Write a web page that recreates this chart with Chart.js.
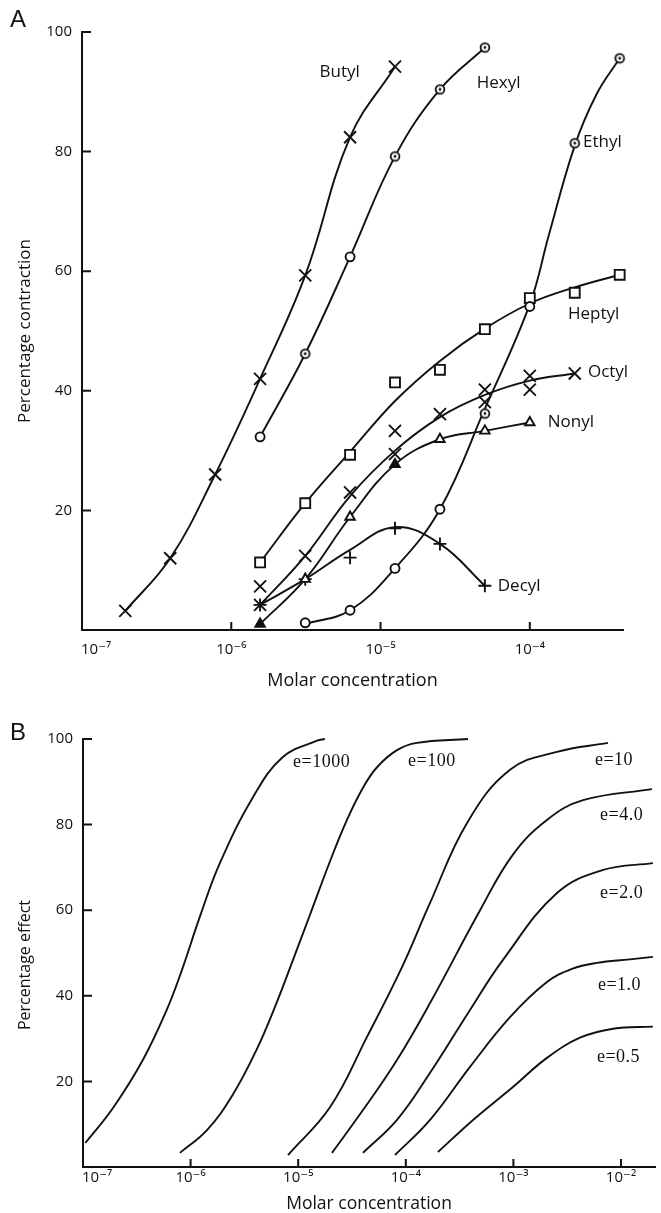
<!DOCTYPE html>
<html>
<head>
<meta charset="utf-8">
<title>Dose-response curves of alkyl compounds</title>
<script src="https://cdn.jsdelivr.net/npm/chart.js@4.4.1/dist/chart.umd.min.js"></script>
<style>
  html, body { margin: 0; padding: 0; background: #fff; overflow: hidden; }
  .panel { position: absolute; left: 0; width: 661px; }
  #panelA { top: 0; height: 700px; }
  #panelB { top: 690px; height: 530px; }
</style>
</head>
<body>
<div class="panel" id="panelA"><canvas id="chartA"></canvas></div>
<div class="panel" id="panelB"><canvas id="chartB"></canvas></div>
<script>
// ---------- Panel A: measured contractions ----------
const xTicksA = [1e-7, 1e-6, 1e-5, 1e-4];
const xTickLabelsA = ['10\u207B\u2077', '10\u207B\u2076', '10\u207B\u2075', '10\u207B\u2074'];
const yTicks = [0, 20, 40, 60, 80, 100];
const yTickLabels = ['', '20', '40', '60', '80', '100'];

const butylX = [1.95e-7, 3.9e-7, 7.8e-7, 1.56e-6, 3.13e-6, 6.25e-6, 1.25e-5];
const butylY = [3.2, 12.0, 26.0, 42.0, 59.3, 82.4, 94.2];

const hexylX = [1.56e-6, 3.13e-6, 6.25e-6, 1.25e-5, 2.5e-5, 5e-5];
const hexylY = [32.3, 46.2, 62.4, 79.2, 90.4, 97.4];

const ethylX = [3.13e-6, 6.25e-6, 1.25e-5, 2.5e-5, 5e-5, 1e-4, 2e-4, 4e-4];
const ethylY = [1.2, 3.3, 10.3, 20.2, 36.2, 54.1, 81.4, 95.6];
const ethylCurveX = [3.13e-6, 6.25e-6, 1.25e-5, 2.5e-5, 5e-5, 1e-4, 1.34e-4, 2e-4, 2.8e-4, 4e-4];
const ethylCurveY = [1.0, 3.3, 10.3, 20.2, 37.0, 54.5, 66.0, 81.0, 89.6, 95.6];

const heptylX = [1.56e-6, 3.13e-6, 6.25e-6, 1.25e-5, 2.5e-5, 5e-5, 1e-4, 2e-4, 4e-4];
const heptylY = [11.3, 21.2, 29.3, 41.4, 43.5, 50.3, 55.5, 56.4, 59.4];
const heptylCurveY = [11.3, 21.2, 29.8, 38.3, 45.0, 50.4, 54.6, 57.3, 59.4];

const octylX = [1.56e-6, 1.56e-6, 3.13e-6, 6.25e-6, 1.25e-5, 1.25e-5, 2.5e-5, 5e-5, 5e-5, 1e-4, 1e-4, 2e-4];
const octylY = [7.3, 4.2, 12.4, 23.0, 33.3, 29.4, 36.1, 40.2, 38.1, 42.5, 40.2, 42.9];
const octylCurveX = [1.56e-6, 3.13e-6, 6.25e-6, 1.25e-5, 2.5e-5, 5e-5, 1e-4, 2e-4];
const octylCurveY = [4.2, 12.4, 22.4, 30.0, 35.6, 39.3, 41.7, 42.9];

const nonylX = [1.56e-6, 3.13e-6, 6.25e-6, 1.25e-5, 2.5e-5, 5e-5, 1e-4];
const nonylY = [1.0, 8.5, 18.9, 27.7, 31.9, 33.3, 34.7];

const decylX = [1.56e-6, 3.13e-6, 6.25e-6, 1.25e-5, 2.5e-5, 5e-5];
const decylY = [4.2, 8.5, 12.1, 17.0, 14.4, 7.4];
const decylCurveY = [4.2, 8.5, 13.4, 17.2, 14.4, 7.4];

// ---------- Panel B: theoretical curves for several efficacies ----------
const xTicksB = [1e-7, 1e-6, 1e-5, 1e-4, 1e-3, 1e-2];
const xTickLabelsB = ['10\u207B\u2077', '10\u207B\u2076', '10\u207B\u2075', '10\u207B\u2074', '10\u207B\u00B3', '10\u207B\u00B2'];

const e1000X = [1.05e-7, 1.9e-7, 3.6e-7, 6.0e-7, 8.3e-7, 1.22e-6, 1.87e-6, 3.8e-6, 7.2e-6, 1.5e-5, 1.77e-5];
const e1000Y = [5.6, 13.8, 25.0, 36.7, 46.0, 58.5, 71.0, 86.4, 95.8, 99.6, 100];

const e100X = [7.96e-7, 1.42e-6, 2.48e-6, 4.14e-6, 6.35e-6, 8.95e-6, 1.29e-5, 1.98e-5, 2.84e-5, 4.0e-5, 5.4e-5, 8.28e-5, 1.27e-4, 3.79e-4];
const e100Y = [3.3, 8.6, 17.0, 27.6, 38.6, 48.4, 59.0, 71.5, 81.1, 88.6, 93.4, 97.4, 99.1, 100];

const e10X = [8.04e-6, 1.98e-5, 4.36e-5, 9.22e-5, 1.68e-4, 3.71e-4, 9.3e-4, 2.54e-3, 7.57e-3];
const e10Y = [2.8, 14.0, 30.4, 46.7, 61.7, 80.4, 92.8, 97.0, 99.1];

const e4X = [2.06e-5, 4.0e-5, 8.28e-5, 1.68e-4, 4.9e-4, 9.9e-4, 2.05e-3, 4.44e-3, 1.94e-2];
const e4Y = [3.3, 13.3, 25.0, 38.3, 60.0, 73.0, 81.1, 85.7, 88.3];

const e2X = [4.0e-5, 8.28e-5, 1.68e-4, 3.95e-4, 8.0e-4, 2.54e-3, 6.81e-3, 1.98e-2];
const e2Y = [3.3, 11.0, 22.0, 36.7, 48.4, 64.0, 69.4, 71.0];

const e1X = [7.94e-5, 1.68e-4, 3.95e-4, 9.3e-4, 2.05e-3, 3.5e-3, 5.98e-3, 1.21e-2, 1.98e-2];
const e1Y = [2.8, 11.0, 23.4, 35.0, 43.2, 46.3, 47.7, 48.5, 49.1];

const e05X = [1.99e-4, 4.22e-4, 9.9e-4, 2.05e-3, 4.16e-3, 8.43e-3, 1.98e-2];
const e05Y = [3.5, 11.0, 18.7, 25.5, 30.2, 32.3, 32.8];

// ---------- drawing ----------
const ink = '#111';
const sans = '"Open Sans", "DejaVu Sans", sans-serif';
const serif = '"Liberation Serif", "DejaVu Serif", serif';

const pts = (xs, ys) => xs.map((x, i) => ({ x, y: ys[i] }));

// open circle with a centre dot
function dottedRing() {
  const c = document.createElement('canvas');
  c.width = c.height = 14;
  const g = c.getContext('2d');
  g.lineWidth = 1.8;
  g.strokeStyle = ink;
  g.fillStyle = '#fff';
  g.beginPath(); g.arc(7, 7, 4.4, 0, Math.PI * 2); g.fill(); g.stroke();
  g.fillStyle = ink;
  g.beginPath(); g.arc(7, 7, 1.4, 0, Math.PI * 2); g.fill();
  return c;
}
const ringDot = dottedRing();

function curve(xs, ys) {
  return {
    data: pts(xs, ys), showLine: true, pointRadius: 0, borderColor: ink,
    borderWidth: 1.9, tension: 0.4, fill: false, clip: false, order: 2
  };
}
function marks(xs, ys, style, radius, extra) {
  return Object.assign({
    data: pts(xs, ys), showLine: false, pointStyle: style, pointRadius: radius,
    pointBorderWidth: 1.9, pointBorderColor: ink, pointBackgroundColor: '#fff',
    clip: false, order: 1
  }, extra || {});
}

// axis frame, inward tick marks, decade labels and text placed on the scales
function framePlugin(cfg) {
  return {
    id: 'frame' + cfg.letter,
    afterDraw(chart) {
      const { ctx, chartArea } = chart;
      const xs = chart.scales.x, ys = chart.scales.y;
      ctx.save();
      ctx.strokeStyle = ink;
      ctx.lineWidth = 2;
      ctx.beginPath();
      cfg.xMarks.forEach(v => {
        const px = xs.getPixelForValue(v);
        ctx.moveTo(px, chartArea.bottom); ctx.lineTo(px, chartArea.bottom - 8);
      });
      cfg.yMarks.forEach(v => {
        const py = ys.getPixelForValue(v);
        ctx.moveTo(chartArea.left, py); ctx.lineTo(chartArea.left + 9, py);
      });
      ctx.stroke();

      ctx.fillStyle = ink;
      // decade labels under the x axis; the first one starts at the axis corner
      ctx.font = '15px ' + sans;
      ctx.textBaseline = 'middle';
      cfg.xTicks.forEach((v, i) => {
        const px = xs.getPixelForValue(v);
        ctx.textAlign = i === 0 ? 'left' : 'center';
        ctx.fillText(cfg.xLabels[i], i === 0 ? px - 1 : px, chartArea.bottom + cfg.xLabelDrop);
      });

      ctx.textAlign = 'left';
      cfg.notes.forEach(n => {
        ctx.font = n.font;
        ctx.letterSpacing = n.spacing || '0px';
        ctx.fillText(n.text, xs.getPixelForValue(n.x), ys.getPixelForValue(n.y));
      });
      ctx.letterSpacing = '0px';

      ctx.font = '24px "Liberation Sans", Arial, sans-serif';
      ctx.textBaseline = 'alphabetic';
      ctx.fillText(cfg.letter, 10, cfg.letterBase);

      ctx.translate(cfg.yTitleX, cfg.yTitleY);
      ctx.rotate(-Math.PI / 2);
      ctx.textAlign = 'center';
      ctx.textBaseline = 'middle';
      ctx.font = cfg.yTitleSize + 'px ' + sans;
      ctx.fillText(cfg.yTitle, 0, 0);
      ctx.restore();
    }
  };
}

function baseOptions(o) {
  return {
    responsive: true,
    maintainAspectRatio: false,
    animation: false,
    events: [],
    layout: { padding: o.padding },
    plugins: { legend: { display: false }, tooltip: { enabled: false } },
    scales: {
      x: {
        type: 'logarithmic', min: o.xMin, max: o.xMax,
        afterBuildTicks: s => { s.ticks = o.xTicks.map(v => ({ value: v })); },
        afterFit: s => { s.height = o.xHeight; },
        grid: { display: true, drawOnChartArea: false, drawTicks: false },
        border: { display: true, color: ink, width: 2 },
        ticks: { display: false },
        title: {
          display: true, text: 'Molar concentration', color: ink,
          font: { family: sans, size: o.xTitleSize }, padding: { top: 0, bottom: o.xTitlePad }
        }
      },
      y: {
        type: 'linear', min: 0, max: 100,
        afterBuildTicks: s => { s.ticks = yTicks.map(v => ({ value: v })); },
        afterFit: s => { s.width = o.yWidth; },
        grid: { display: true, drawOnChartArea: false, drawTicks: false },
        border: { display: true, color: ink, width: 2 },
        ticks: {
          padding: 10, color: ink, font: { family: sans, size: 15 },
          callback: v => yTickLabels[yTicks.indexOf(v)]
        }
      }
    }
  };
}

const labelFont = '17px ' + sans;
const eFont = '18px ' + serif;

new Chart(document.getElementById('chartA'), {
  type: 'scatter',
  data: {
    datasets: [
      marks(butylX, butylY, 'crossRot', 8.5),
      marks(hexylX, hexylY, ['circle', ringDot, 'circle', ringDot, ringDot, ringDot], 4.5),
      marks(ethylX, ethylY, ['circle', 'circle', 'circle', 'circle', ringDot, 'circle', ringDot, ringDot], 4.5),
      marks(heptylX, heptylY, 'rect', 7),
      marks(octylX, octylY, 'crossRot', 8.5),
      marks(nonylX, nonylY, 'triangle', 5.5,
        { pointBackgroundColor: [ink, '#fff', '#fff', ink, '#fff', '#fff', '#fff'] }),
      marks(decylX, decylY, 'cross', 6.5),
      curve(butylX, butylY),
      curve(hexylX, hexylY),
      curve(ethylCurveX, ethylCurveY),
      curve(heptylX, heptylCurveY),
      curve(octylCurveX, octylCurveY),
      curve(nonylX, nonylY),
      curve(decylX, decylCurveY)
    ]
  },
  options: baseOptions({
    padding: { top: 32, right: 38, left: 0, bottom: 0 },
    xMin: 1e-7, xMax: 4.21e-4, xTicks: xTicksA,
    xHeight: 70, xTitlePad: 8, xTitleSize: 18, yWidth: 82
  }),
  plugins: [framePlugin({
    letter: 'A', letterBase: 27, yTitle: 'Percentage contraction', yTitleSize: 17,
    yTitleX: 25, yTitleY: 331,
    xTicks: xTicksA, xLabels: xTickLabelsA, xLabelDrop: 20,
    xMarks: [1e-6, 1e-5, 1e-4], yMarks: [20, 40, 60, 80, 100],
    notes: [
      { text: 'Butyl', x: 3.9e-6, y: 93.3, font: labelFont },
      { text: 'Hexyl', x: 4.41e-5, y: 91.5, font: labelFont },
      { text: 'Ethyl', x: 2.27e-4, y: 81.5, font: labelFont },
      { text: 'Heptyl', x: 1.8e-4, y: 52.8, font: labelFont },
      { text: 'Octyl', x: 2.45e-4, y: 43.1, font: labelFont },
      { text: 'Nonyl', x: 1.32e-4, y: 34.7, font: labelFont },
      { text: 'Decyl', x: 6.1e-5, y: 7.3, font: labelFont }
    ]
  })]
});

new Chart(document.getElementById('chartB'), {
  type: 'scatter',
  data: {
    datasets: [
      curve(e1000X, e1000Y),
      curve(e100X, e100Y),
      curve(e10X, e10Y),
      curve(e4X, e4Y),
      curve(e2X, e2Y),
      curve(e1X, e1Y),
      curve(e05X, e05Y)
    ]
  },
  options: baseOptions({
    padding: { top: 49, right: 6, left: 0, bottom: 0 },
    xMin: 1e-7, xMax: 2.07e-2, xTicks: xTicksB,
    xHeight: 53, xTitlePad: 5, xTitleSize: 17.5, yWidth: 83
  }),
  plugins: [framePlugin({
    letter: 'B', letterBase: 50, yTitle: 'Percentage effect', yTitleSize: 16,
    yTitleX: 25, yTitleY: 275,
    xTicks: xTicksB, xLabels: xTickLabelsB, xLabelDrop: 11,
    xMarks: [1e-6, 1e-5, 1e-4, 1e-3, 1e-2], yMarks: [20, 40, 60, 80, 100],
    notes: [
      { text: 'e=1000', x: 8.95e-6, y: 94.6, font: eFont, spacing: '0.5px' },
      { text: 'e=100', x: 1.05e-4, y: 94.9, font: eFont, spacing: '0.5px' },
      { text: 'e=10', x: 5.73e-3, y: 95.1, font: eFont, spacing: '0.5px' },
      { text: 'e=4.0', x: 6.38e-3, y: 82.2, font: eFont, spacing: '0.5px' },
      { text: 'e=2.0', x: 6.38e-3, y: 64.0, font: eFont, spacing: '0.5px' },
      { text: 'e=1.0', x: 6.11e-3, y: 42.5, font: eFont, spacing: '0.5px' },
      { text: 'e=0.5', x: 5.98e-3, y: 25.7, font: eFont, spacing: '0.5px' }
    ]
  })]
});
</script>
</body>
</html>
